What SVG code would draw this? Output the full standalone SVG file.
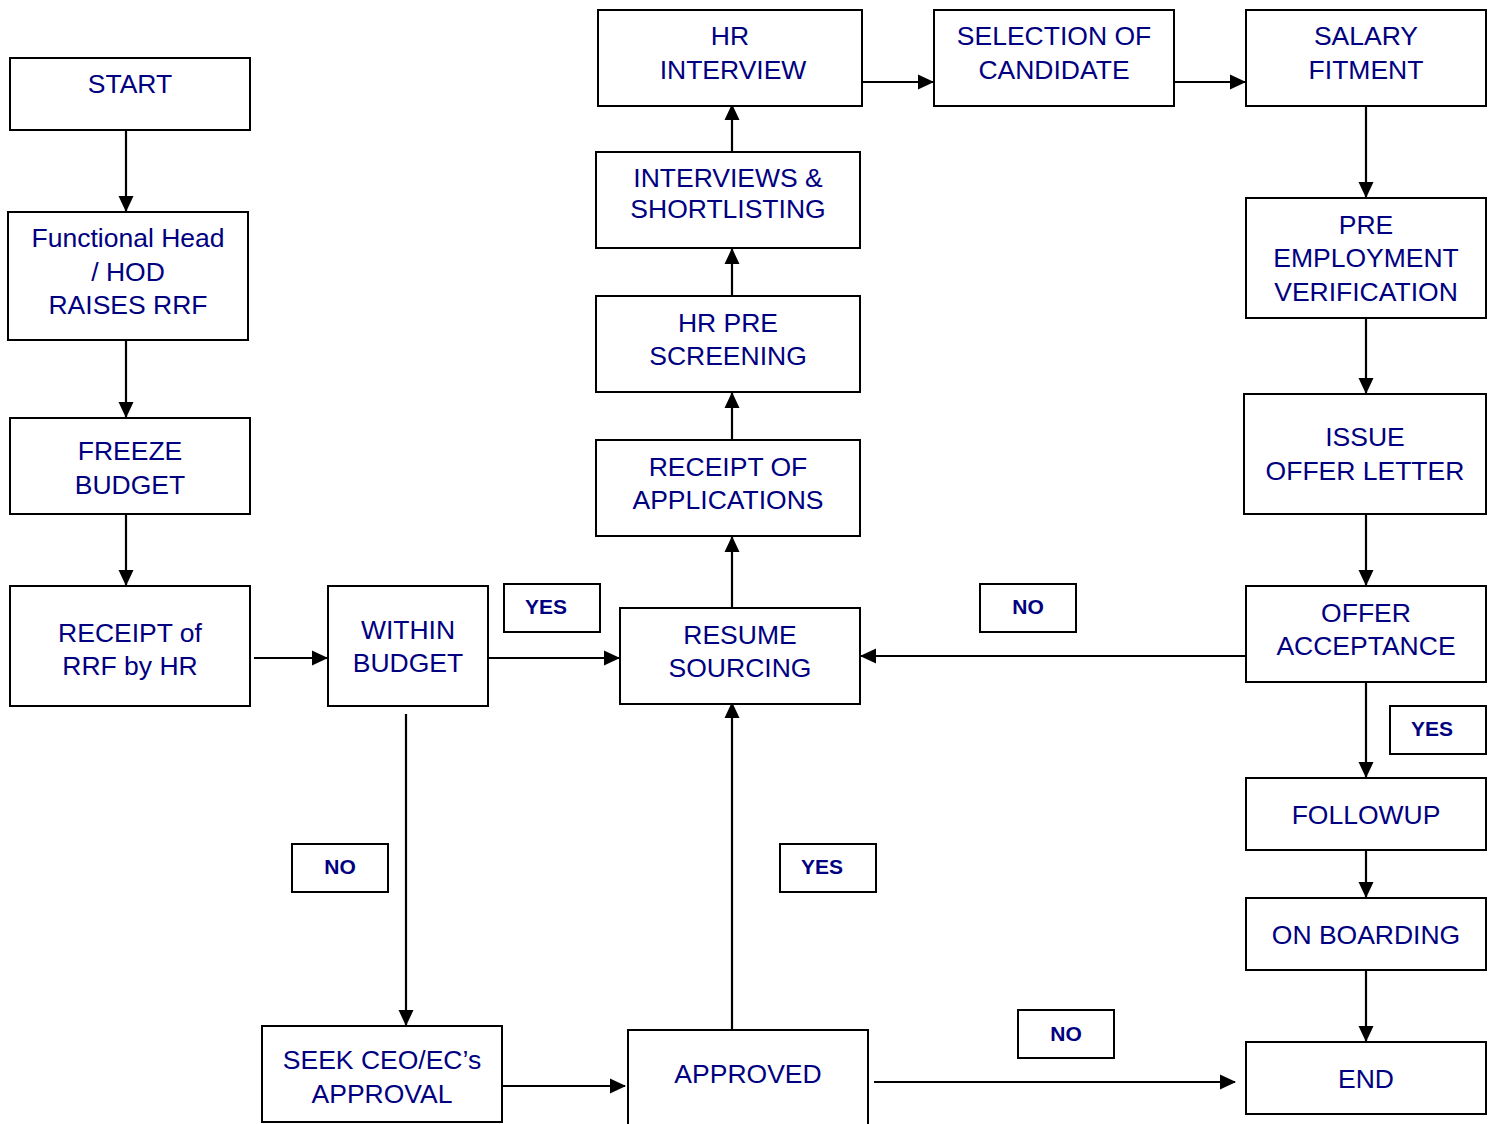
<svg xmlns="http://www.w3.org/2000/svg" width="1494" height="1124" viewBox="0 0 1494 1124">
<defs>
<style>
.box{fill:#fff;stroke:#000;stroke-width:2}
.t{font-family:"Liberation Sans",Arial,sans-serif;font-size:26.5px;fill:#000080;text-anchor:middle}
.l{font-family:"Liberation Sans",Arial,sans-serif;font-size:21px;font-weight:bold;fill:#000080;text-anchor:middle}
.c{fill:none;stroke:#000;stroke-width:2.2;marker-end:url(#ah)}
</style>
<marker id="ah" markerUnits="userSpaceOnUse" markerWidth="16" markerHeight="16" viewBox="0 0 16 16" refX="15" refY="8" orient="auto">
<path d="M0,0.5 L16,8 L0,15.5 Z" fill="#000"/>
</marker>
</defs>
<rect width="1494" height="1124" fill="#fff"/>
<g id="connectors">
<line class="c" x1="126" y1="130" x2="126" y2="211"/>
<line class="c" x1="126" y1="340" x2="126" y2="417"/>
<line class="c" x1="126" y1="514" x2="126" y2="585"/>
<line class="c" x1="254" y1="658" x2="327" y2="658"/>
<line class="c" x1="488" y1="658" x2="619" y2="658"/>
<line class="c" x1="406" y1="714" x2="406" y2="1025"/>
<line class="c" x1="502" y1="1086" x2="625" y2="1086"/>
<line class="c" x1="732" y1="1030" x2="732" y2="703"/>
<line class="c" x1="874" y1="1082" x2="1235" y2="1082"/>
<line class="c" x1="732" y1="608" x2="732" y2="537"/>
<line class="c" x1="732" y1="440" x2="732" y2="393"/>
<line class="c" x1="732" y1="296" x2="732" y2="249"/>
<line class="c" x1="732" y1="152" x2="732" y2="105"/>
<line class="c" x1="862" y1="82" x2="933" y2="82"/>
<line class="c" x1="1174" y1="82" x2="1245" y2="82"/>
<line class="c" x1="1366" y1="106" x2="1366" y2="197"/>
<line class="c" x1="1366" y1="318" x2="1366" y2="393"/>
<line class="c" x1="1366" y1="514" x2="1366" y2="585"/>
<line class="c" x1="1246" y1="656" x2="861" y2="656"/>
<line class="c" x1="1366" y1="682" x2="1366" y2="777"/>
<line class="c" x1="1366" y1="850" x2="1366" y2="897"/>
<line class="c" x1="1366" y1="970" x2="1366" y2="1041"/>
</g>
<g id="start"><rect class="box" x="10" y="58" width="240" height="72"/><text class="t" x="130" y="93">START</text></g>
<g id="raise-rrf"><rect class="box" x="8" y="212" width="240" height="128"/><text class="t" x="128" y="247">Functional Head</text><text class="t" x="128" y="281">/ HOD</text><text class="t" x="128" y="314">RAISES RRF</text></g>
<g id="freeze"><rect class="box" x="10" y="418" width="240" height="96"/><text class="t" x="130" y="460">FREEZE</text><text class="t" x="130" y="494">BUDGET</text></g>
<g id="receipt-rrf"><rect class="box" x="10" y="586" width="240" height="120"/><text class="t" x="130" y="642">RECEIPT of</text><text class="t" x="130" y="675">RRF by HR</text></g>
<g id="within"><rect class="box" x="328" y="586" width="160" height="120"/><text class="t" x="408" y="639">WITHIN</text><text class="t" x="408" y="672">BUDGET</text></g>
<g id="yes1"><rect class="box" x="504" y="584" width="96" height="48"/><text class="l" x="546" y="614">YES</text></g>
<g id="resume"><rect class="box" x="620" y="608" width="240" height="96"/><text class="t" x="740" y="644">RESUME</text><text class="t" x="740" y="677">SOURCING</text></g>
<g id="receipt-apps"><rect class="box" x="596" y="440" width="264" height="96"/><text class="t" x="728" y="476">RECEIPT OF</text><text class="t" x="728" y="509">APPLICATIONS</text></g>
<g id="prescreen"><rect class="box" x="596" y="296" width="264" height="96"/><text class="t" x="728" y="332">HR PRE</text><text class="t" x="728" y="365">SCREENING</text></g>
<g id="shortlist"><rect class="box" x="596" y="152" width="264" height="96"/><text class="t" x="728" y="187">INTERVIEWS &amp;</text><text class="t" x="728" y="218">SHORTLISTING</text></g>
<g id="hr-interview"><rect class="box" x="598" y="10" width="264" height="96"/><text class="t" x="730" y="45">HR</text><text class="t" x="733" y="79">INTERVIEW</text></g>
<g id="selection"><rect class="box" x="934" y="10" width="240" height="96"/><text class="t" x="1054" y="45">SELECTION OF</text><text class="t" x="1054" y="79">CANDIDATE</text></g>
<g id="salary"><rect class="box" x="1246" y="10" width="240" height="96"/><text class="t" x="1366" y="45">SALARY</text><text class="t" x="1366" y="79">FITMENT</text></g>
<g id="pre-emp"><rect class="box" x="1246" y="198" width="240" height="120"/><text class="t" x="1366" y="234">PRE</text><text class="t" x="1366" y="267">EMPLOYMENT</text><text class="t" x="1366" y="301">VERIFICATION</text></g>
<g id="offer-letter"><rect class="box" x="1244" y="394" width="242" height="120"/><text class="t" x="1365" y="446">ISSUE</text><text class="t" x="1365" y="480">OFFER LETTER</text></g>
<g id="acceptance"><rect class="box" x="1246" y="586" width="240" height="96"/><text class="t" x="1366" y="622">OFFER</text><text class="t" x="1366" y="655">ACCEPTANCE</text></g>
<g id="yes2"><rect class="box" x="1390" y="706" width="96" height="48"/><text class="l" x="1432" y="736">YES</text></g>
<g id="followup"><rect class="box" x="1246" y="778" width="240" height="72"/><text class="t" x="1366" y="824">FOLLOWUP</text></g>
<g id="onboarding"><rect class="box" x="1246" y="898" width="240" height="72"/><text class="t" x="1366" y="944">ON BOARDING</text></g>
<g id="end"><rect class="box" x="1246" y="1042" width="240" height="72"/><text class="t" x="1366" y="1088">END</text></g>
<g id="no1"><rect class="box" x="980" y="584" width="96" height="48"/><text class="l" x="1028" y="614">NO</text></g>
<g id="no2"><rect class="box" x="292" y="844" width="96" height="48"/><text class="l" x="340" y="874">NO</text></g>
<g id="yes3"><rect class="box" x="780" y="844" width="96" height="48"/><text class="l" x="822" y="874">YES</text></g>
<g id="no3"><rect class="box" x="1018" y="1010" width="96" height="48"/><text class="l" x="1066" y="1041">NO</text></g>
<g id="seek"><rect class="box" x="262" y="1026" width="240" height="96"/><text class="t" x="382" y="1069">SEEK CEO/EC’s</text><text class="t" x="382" y="1103">APPROVAL</text></g>
<g id="approved"><rect class="box" x="628" y="1030" width="240" height="110"/><text class="t" x="748" y="1083">APPROVED</text></g>
</svg>
